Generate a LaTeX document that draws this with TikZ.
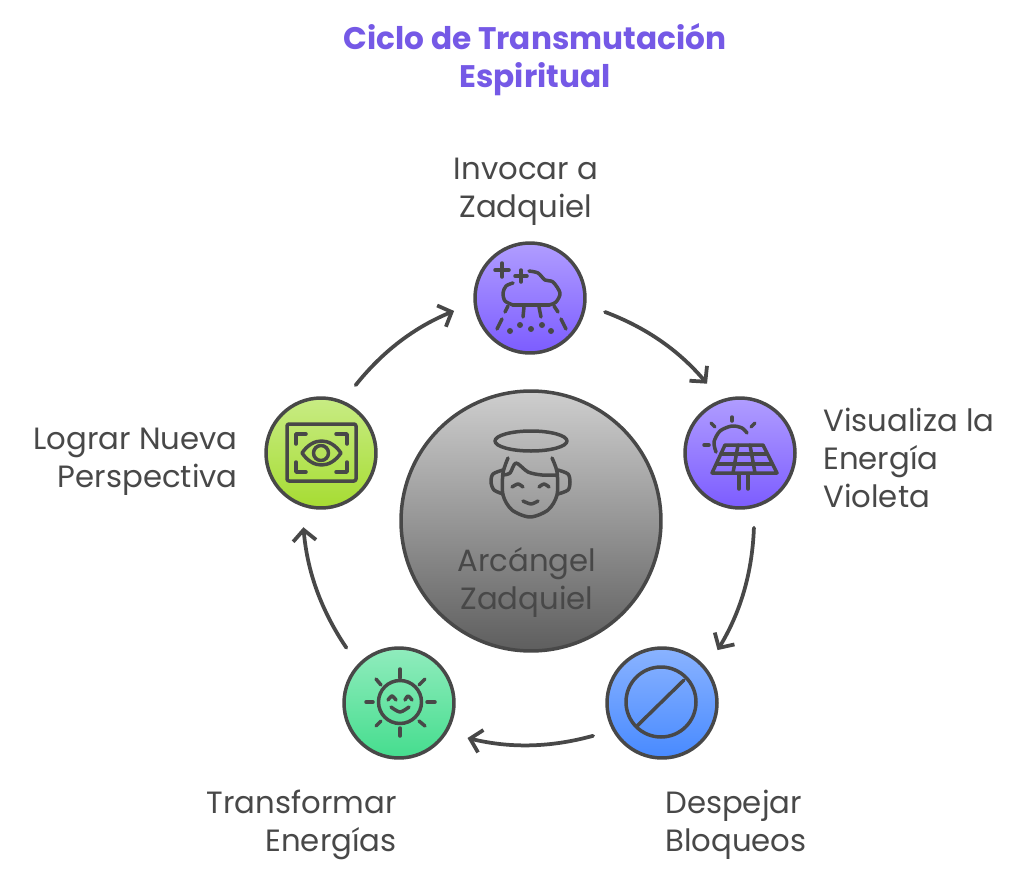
\documentclass[tikz,border=0pt]{standalone}
\usepackage{fontspec}
\setmainfont{Poppins}
\usetikzlibrary{arrows.meta}
\definecolor{inkgray}{HTML}{484848}
\definecolor{titleviolet}{HTML}{7559E6}
\definecolor{violettop}{HTML}{B09DFF}
\definecolor{violetbot}{HTML}{7C5CFF}
\definecolor{bluetop}{HTML}{8AB3FF}
\definecolor{bluebot}{HTML}{488AFF}
\definecolor{tealtop}{HTML}{90ECBD}
\definecolor{tealbot}{HTML}{45DD8E}
\definecolor{limetop}{HTML}{C8EC84}
\definecolor{limebot}{HTML}{A6DC32}
\definecolor{graytop}{HTML}{CECECE}
\definecolor{graybot}{HTML}{5E5E5E}
\tikzset{
  stepnode/.style={circle,draw=inkgray,line width=0.07cm,minimum size=2.2cm,inner sep=0pt},
  looparrow/.style={draw=inkgray,line width=0.075cm,line cap=round,-{Straight Barb[length=0.22cm,width=0.46cm,line width=0.075cm]},bend left=14.5,shorten <=0.4cm,shorten >=0.42cm},
  iconline/.style={draw=inkgray,line width=0.07cm,line cap=round,line join=round},
  steptext/.style={text=inkgray,font=\fontsize{17.5}{21.6}\selectfont,inner sep=0pt},
}
\begin{document}
\begin{tikzpicture}[x=0.02cm,y=-0.02cm]
\useasboundingbox (0,0) rectangle (1024,875);

\node[font=\bfseries\fontsize{17.75}{21.6}\selectfont,text=titleviolet,align=center,inner sep=0pt] (title) at (535,60) {Ciclo de Transmutación\\Espiritual};

% center and the five steps
\node[circle,draw=inkgray,line width=0.07cm,minimum size=5.2cm,inner sep=0pt,top color=graytop,bottom color=graybot] (center) at (531,521) {};
\node[stepnode,top color=violettop,bottom color=violetbot] (invocar) at (530,298) {};
\node[stepnode,top color=violettop,bottom color=violetbot] (visualiza) at (740,453) {};
\node[stepnode,top color=bluetop,bottom color=bluebot] (despejar) at (662,703) {};
\node[stepnode,top color=tealtop,bottom color=tealbot] (transformar) at (399,703) {};
\node[stepnode,top color=limetop,bottom color=limebot] (lograr) at (321,453) {};

\node[steptext,align=center] (centertext) at (527,582) {Arcángel\\Zadquiel};
\node[steptext,align=center] (invocartext) at (526,192) {Invocar a\\Zadquiel};
\node[steptext,align=left,anchor=west] (visualizatext) at (823,458) {Visualiza la\\Energía\\Violeta};
\node[steptext,align=left,anchor=west] (despejartext) at (665,825) {Despejar\\Bloqueos};
\node[steptext,align=right,anchor=east] (transformartext) at (397,825) {Transformar\\Energías};
\node[steptext,align=right,anchor=east] (lograrrtext) at (238,462) {Lograr Nueva\\Perspectiva};

\draw[looparrow] (invocar.-7) to (visualiza.110);
\draw[looparrow] (visualiza.-75) to (despejar.38);
\draw[looparrow] (despejar.-151) to (transformar.-32);
\draw[looparrow] (transformar.137) to (lograr.-110);
\draw[looparrow] (lograr.67) to (invocar.185);

% angel
\draw[iconline] (531,441) ellipse (36 and 10);
\draw[iconline] plot[smooth] coordinates {(508,458) (503,473) (503,495) (512,510) (530,517) (548,510) (557,495) (557,472) (552,458)};
\draw[iconline] plot[smooth] coordinates {(503,475) (510,473) (516,463) (528,472) (542,475) (557,475)};
\draw[iconline] plot[smooth] coordinates {(503,470) (493,474) (491,482) (494,490) (503,494)};
\draw[iconline] plot[smooth] coordinates {(558,470) (568,474) (570,482) (568,490) (558,494)};
\draw[iconline] plot[smooth] coordinates {(512,487) (518,484) (523,487)};
\draw[iconline] plot[smooth] coordinates {(539,487) (544,484) (549,487)};
\draw[iconline] plot[smooth] coordinates {(523,501) (531,504) (538,501)};

% cloud
\draw[iconline] (495,270) -- (509,270) (502,263) -- (502,277);
\draw[iconline] (515,276) -- (527,276) (521,270) -- (521,282);
\draw[iconline] plot[smooth] coordinates {(529,271) (538,273) (545,280) (553,282) (560,293) (556,302) (549,305)};
\draw[iconline] (549,305) -- (513,305);
\draw[iconline] plot[smooth] coordinates {(513,305) (505,301) (503,293) (506,286) (513,283)};
\foreach \xa/\ya/\xb/\yb in {508/306/505/312,524/307/523/317,539/307/541/317,554/306/558/312,502/319/497/329,561/319/566/329}
\draw[iconline] (\xa,\ya) -- (\xb,\yb);
\foreach \xa/\ya in {510/331,520/325,531/329,542/325,551/331}
\fill[inkgray] (\xa,\ya) circle (3);

% solar panel
\foreach \xa/\ya/\xb/\yb in {711/423/715/427,732/417/732/421,755/423/751/427,704/445/709/445,721/454/767/454,717/464/772/464,738/445/733/473,750/445/755/473,739/474/739/489,748/474/748/489}
\draw[iconline] (\xa,\ya) -- (\xb,\yb);
\draw[iconline] plot[smooth] coordinates {(716,452) (714,442) (720,431) (732,426) (742,428) (747,433)};
\draw[iconline] (725,445) -- (763,445) -- (777,473) -- (712,473) -- cycle;

% forbidden sign
\draw[iconline] (661,702) circle (35);
\draw[iconline] (637,726) -- (684,680);

% sun
\draw[iconline] (400,702) circle (21.5);
\foreach \xa/\ya/\xb/\yb in {400/669/400/678,400/728/400/736,366/702/373/702,427/702/435/702,376/679/381/685,425/679/419/685,376/726/381/721,425/726/419/721}
\draw[iconline] (\xa,\ya) -- (\xb,\yb);
\draw[iconline] plot[smooth] coordinates {(388,700) (392,696) (396,700)};
\draw[iconline] plot[smooth] coordinates {(405,700) (408,696) (412,700)};
\draw[iconline] plot[smooth] coordinates {(391,707) (400,712) (409,707)};

% eye
\draw[iconline,rounded corners=0.04cm] (287,424) rectangle (356,481);
\draw[iconline] (296,444) -- (296,434) -- (306,434);
\draw[iconline] (336,434) -- (347,434) -- (347,444);
\draw[iconline] (296,462) -- (296,472) -- (306,472);
\draw[iconline] (347,462) -- (347,472) -- (336,472);
\draw[iconline] (302,453) .. controls (313,437) and (330,437) .. (341,453) .. controls (330,469) and (313,469) .. (302,453) -- cycle;
\draw[iconline] (321,453) circle (7.5);
\end{tikzpicture}
\end{document}
